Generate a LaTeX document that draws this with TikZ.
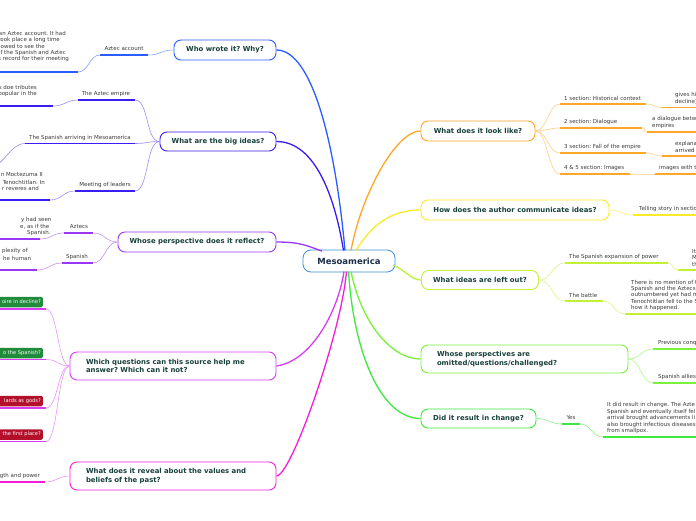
\documentclass[tikz,border=0pt]{standalone}
\usepackage{fontspec}
\setmainfont{DejaVu Sans}
\frenchspacing
\definecolor{cBlue}{HTML}{2B5CFF}
\definecolor{cIndigo}{HTML}{3A1DF0}
\definecolor{cPurple}{HTML}{9A36F5}
\definecolor{cViolet}{HTML}{D83CF5}
\definecolor{cMagenta}{HTML}{F51ED8}
\definecolor{cOrange}{HTML}{FFA726}
\definecolor{cYellow}{HTML}{FAEA2A}
\definecolor{cLime}{HTML}{C2F034}
\definecolor{cGreenA}{HTML}{7AF23A}
\definecolor{cGreenB}{HTML}{3FE83F}
\definecolor{cCenter}{HTML}{3D8FD6}
\definecolor{tDark}{HTML}{17403A}
\definecolor{tCenter}{HTML}{1C2E4A}
\definecolor{tGray}{HTML}{3A3A3A}
\definecolor{tagGreen}{HTML}{1F8B3B}
\definecolor{tagRed}{HTML}{B3102C}
\begin{document}
\begin{tikzpicture}[x=1pt,y=-1pt,
 topic/.style={draw, rounded corners=7pt, line width=0.9pt, fill=white, font=\fontsize{6.9}{8.8}\selectfont\bfseries, text=tDark, inner sep=0pt, minimum height=20pt},
 lbl/.style={font=\fontsize{5.5}{6.6}\selectfont, text=tGray, inner sep=0pt},
 tag/.style={font=\fontsize{5.1}{6}\selectfont, text=white, inner xsep=2pt, inner ysep=0pt, minimum height=10.5pt, rounded corners=1.5pt, text width=60pt, align=right},
 uline/.style={line width=1.5pt},
 link/.style={line width=0.6pt},
 trunk/.style={line width=1.3pt},
]
\fill[white] (0,0) rectangle (696,520);
\useasboundingbox (0,0) rectangle (696,520);

% ---------- centre ----------
\node[draw=cCenter, rounded corners=8pt, line width=0.8pt, fill=white, minimum width=92pt, minimum height=22pt, font=\fontsize{8.5}{10}\selectfont\bfseries, text=tCenter, inner sep=0pt] (c) at (349,261) {Mesoamerica};
\coordinate (cW) at (345,250.5);
\coordinate (cB) at (343.5,250.5);
\coordinate (cP) at (322,251);
\coordinate (cQ) at (344,271.5);
\coordinate (cR) at (346.5,271.5);
\coordinate (cO) at (351,250.5);
\coordinate (cY) at (356,250.5);
\coordinate (cL) at (393,265);
\coordinate (cG1) at (351,271.5);
\coordinate (cG2) at (348.5,271.5);

% ---------- topics ----------
\node[topic, draw=cBlue, minimum width=102pt] (who) at (225,50) {Who wrote it? Why?};
\node[topic, draw=cIndigo, minimum width=116pt, minimum height=19pt] (big) at (218,141.5) {What are the big ideas?};
\node[topic, draw=cPurple, minimum width=158pt] (persp) at (197,242) {Whose perspective does it reflect?};
\node[topic, draw=cViolet, minimum height=28pt, text width=174pt, inner xsep=16pt, align=left] (which) at (173,366) {Which questions can this source help me\\answer? Which can it not?};
\node[topic, draw=cMagenta, minimum height=28pt, text width=174pt, inner xsep=16pt, align=left] (reveal) at (173,476) {What does it reveal about the values and\\beliefs of the past?};
\node[topic, draw=cOrange, minimum width=114pt] (look) at (478,131) {What does it look like?};
\node[topic, draw=cYellow, minimum width=188pt] (how) at (515,210) {How does the author communicate ideas?};
\node[topic, draw=cLime, minimum width=117pt, minimum height=19pt] (left) at (480,280) {What ideas are left out?};
\node[topic, draw=cGreenA, minimum height=28pt, text width=175pt, inner xsep=16pt, align=left] (omit) at (524.5,359) {Whose perspectives are\\omitted/questions/challenged?};
\node[topic, draw=cGreenB, minimum width=115pt, minimum height=19pt] (did) at (478.5,418.5) {Did it result in change?};

% ---------- trunks ----------
\draw[trunk, cBlue] (who.east) .. controls +(35,0) and +(-10,-110) .. (cW);
\draw[trunk, cIndigo] (big.east) .. controls +(40,0) and +(-8,-50) .. (cB);
\draw[trunk, cPurple] (persp.east) .. controls +(25,0) and +(-15,-5) .. (cP);
\draw[trunk, cViolet] (which.east) .. controls +(35,-5) and +(-6,40) .. (cQ);
\draw[trunk, cMagenta] (reveal.east) .. controls +(15,0) and +(-5,60) .. (cR);
\draw[trunk, cOrange] (cO) .. controls +(10,-55) and +(-25,0) .. (look.west);
\draw[trunk, cYellow] (cY) .. controls +(15,-25) and +(-30,0) .. (how.west);
\draw[trunk, cLime] (cL) .. controls +(12,5) and +(-10,0) .. (left.west);
\draw[trunk, cGreenA] (cG1) .. controls +(10,50) and +(-30,0) .. (omit.west);
\draw[trunk, cGreenB] (cG2) .. controls +(5,80) and +(-40,0) .. (did.west);

% ---------- Who wrote it ----------
\node[lbl] (whoA) at (124,49) {Aztec account};
\coordinate (whoAl) at (100,55); \coordinate (whoAr) at (148,55);
\draw[uline, cBlue] (whoAl) -- (whoAr);
\draw[link, cBlue!55] (who.west) .. controls +(-13,0) and +(13,0) .. (whoAr);
\node[lbl, anchor=east] (whoT1) at (66,33) {an Aztec account. It had};
\node[lbl, anchor=east] (whoT2) at (60,40) {took place a long time};
\node[lbl, anchor=east] (whoT3) at (45,46) {lowed to see the};
\node[lbl, anchor=east] (whoT4) at (66,53) {f the Spanish and Aztec};
\node[lbl, anchor=east] (whoT5) at (69,59) {s record for their meeting};
\coordinate (whoTl) at (-2,72); \coordinate (whoTr) at (78,72);
\draw[uline, cBlue] (whoTl) -- (whoTr);
\draw[link, cBlue!55] (whoAl) .. controls +(-11,0) and +(11,0) .. (whoTr);

% ---------- Big ideas ----------
\node[lbl] (bgA) at (106,94) {The Aztec empire};
\coordinate (bgAl) at (78,100); \coordinate (bgAr) at (135,100);
\draw[uline, cIndigo] (bgAl) -- (bgAr);
\draw[link, cIndigo!50] (big.west) .. controls +(-14,0) and +(14,0) .. (bgAr);
\node[lbl, anchor=east] (bgAt1) at (37,87) {is doe tributes};
\node[lbl, anchor=east] (bgAt2) at (37,94) {popular in the};
\coordinate (bgAtl) at (-2,106); \coordinate (bgAtr) at (53,106);
\draw[uline, cIndigo] (bgAtl) -- (bgAtr);
\draw[link, cIndigo!50] (bgAl) .. controls +(-12,0) and +(12,0) .. (bgAtr);

\node[lbl] (bgB) at (80,138) {The Spanish arriving in Mesoamerica};
\coordinate (bgBl) at (25,143.5); \coordinate (bgBr) at (135,143.5);
\draw[uline, cIndigo] (bgBl) -- (bgBr);
\draw[link, cIndigo!50] (big.west) .. controls +(-12,0) and +(12,0) .. (bgBr);
\coordinate (bgBt) at (-8,166);
\draw[link, cIndigo!50] (bgBl) .. controls +(-15,0) and +(12,0) .. (bgBt);

\node[lbl] (bgC) at (105,185) {Meeting of leaders};
\coordinate (bgCl) at (75,191); \coordinate (bgCr) at (135,191);
\draw[uline, cIndigo] (bgCl) -- (bgCr);
\draw[link, cIndigo!50] (big.west) .. controls +(-14,0) and +(14,0) .. (bgCr);
\node[lbl, anchor=east] (bgCt1) at (43,175) {n Moctezuma II};
\node[lbl, anchor=east] (bgCt2) at (45,182) {Tenochtitlan. In};
\node[lbl, anchor=east] (bgCt3) at (39,188) {r reveres and};
\coordinate (bgCtl) at (-2,200); \coordinate (bgCtr) at (50,200);
\draw[uline, cIndigo] (bgCtl) -- (bgCtr);
\draw[link, cIndigo!50] (bgCl) .. controls +(-12,0) and +(12,0) .. (bgCtr);

% ---------- Perspective ----------
\node[lbl] (psA) at (79,227) {Aztecs};
\coordinate (psAl) at (64,233); \coordinate (psAr) at (93,233);
\draw[uline, cPurple] (psAl) -- (psAr);
\draw[link, cPurple!55] (persp.west) .. controls +(-12,0) and +(12,0) .. (psAr);
\node[lbl, anchor=west] (psAt1) at (21,220) {y had seen};
\node[lbl, anchor=west] (psAt2) at (20,226.5) {e, as if the};
\node[lbl, anchor=west] (psAt3) at (27,233) {Spanish.};
\coordinate (psAtl) at (-2,239); \coordinate (psAtr) at (40,239);
\draw[uline, cPurple] (psAtl) -- (psAtr);
\draw[link, cPurple!55] (psAl) .. controls +(-12,0) and +(12,0) .. (psAtr);

\node[lbl] (psB) at (77,257) {Spanish};
\coordinate (psBl) at (62,263); \coordinate (psBr) at (93,263);
\draw[uline, cPurple] (psBl) -- (psBr);
\draw[link, cPurple!55] (persp.west) .. controls +(-12,0) and +(12,0) .. (psBr);
\node[lbl, anchor=west] (psBt1) at (2,251) {plexity of};
\node[lbl, anchor=west] (psBt2) at (3,258) {he human};
\coordinate (psBtl) at (-2,270); \coordinate (psBtr) at (37,270);
\draw[uline, cPurple] (psBtl) -- (psBtr);
\draw[link, cPurple!55] (psBl) .. controls +(-12,0) and +(12,0) .. (psBtr);

% ---------- Which questions ----------
\node[tag, fill=tagGreen, anchor=east] (q1) at (43,302) {oire in decline?};
\node[tag, fill=tagGreen, anchor=east] (q2) at (43,353) {o the Spanish?};
\node[tag, fill=tagRed, anchor=east] (q3) at (43,401) {lards as gods?};
\node[tag, fill=tagRed, anchor=east] (q4) at (43,434.5) {the first place?};
\coordinate (q1l) at (-2,309); \coordinate (q1r) at (46,309);
\coordinate (q2l) at (-2,359.5); \coordinate (q2r) at (46,359.5);
\coordinate (q3l) at (-2,408); \coordinate (q3r) at (46,408);
\coordinate (q4l) at (-2,441.5); \coordinate (q4r) at (46,441.5);
\draw[uline, cViolet] (q1l) -- (q1r);
\draw[uline, cViolet] (q2l) -- (q2r);
\draw[uline, cViolet] (q3l) -- (q3r);
\draw[uline, cViolet] (q4l) -- (q4r);
\draw[link, cViolet!55] (which.west) .. controls +(-12,0) and +(12,0) .. (q1r);
\draw[link, cViolet!55] (which.west) .. controls +(-12,0) and +(12,0) .. (q2r);
\draw[link, cViolet!55] (which.west) .. controls +(-12,0) and +(12,0) .. (q3r);
\draw[link, cViolet!55] (which.west) .. controls +(-12,0) and +(12,0) .. (q4r);

% ---------- Reveal ----------
\node[lbl, anchor=east] (rvA) at (40,476) {gth and power};
\coordinate (rvAl) at (-2,482); \coordinate (rvAr) at (45,482);
\draw[uline, cMagenta] (rvAl) -- (rvAr);
\draw[link, cMagenta!50] (reveal.west) .. controls +(-12,0) and +(12,0) .. (rvAr);

% ---------- Look like ----------
\node[lbl, anchor=west] (lk1) at (564,98) {1 section: Historical context};
\coordinate (lk1l) at (560,104); \coordinate (lk1r) at (646,104);
\node[lbl, anchor=west] (lk2) at (564,122) {2 section: Dialogue};
\coordinate (lk2l) at (560,128); \coordinate (lk2r) at (642,128);
\node[lbl, anchor=west] (lk3) at (564,147) {3 section: Fall of the empire};
\coordinate (lk3l) at (560,153); \coordinate (lk3r) at (646,153);
\node[lbl, anchor=west] (lk4) at (564,168) {4 \& 5 section: Images};
\coordinate (lk4l) at (560,174); \coordinate (lk4r) at (630,174);
\foreach \k in {1,2,3,4}{
  \draw[uline, cOrange] (lk\k l) -- (lk\k r);
  \draw[link, cOrange!55] (look.east) .. controls +(12,0) and +(-12,0) .. (lk\k l);
}
\node[lbl, anchor=west] (lk1a) at (675,95) {gives hi};
\node[lbl, anchor=west] (lk1b) at (675,101.5) {decline)};
\coordinate (lk1tl) at (662,107.5); \coordinate (lk1tr) at (700,107.5);
\node[lbl, anchor=west] (lk2a) at (652,119) {a dialogue betw};
\node[lbl, anchor=west] (lk2b) at (652,125.5) {empires};
\coordinate (lk2tl) at (647,132); \coordinate (lk2tr) at (700,132);
\node[lbl, anchor=west] (lk3a) at (675,144) {explana};
\node[lbl, anchor=west] (lk3b) at (675,150.5) {arrived};
\coordinate (lk3tl) at (662,156); \coordinate (lk3tr) at (700,156);
\node[lbl, anchor=west] (lk4a) at (659,168) {images with t};
\coordinate (lk4tl) at (655,174); \coordinate (lk4tr) at (700,174);
\foreach \k in {1,2,3,4}{
  \draw[uline, cOrange] (lk\k tl) -- (lk\k tr);
  \draw[link, cOrange!55] (lk\k r) .. controls +(8,0) and +(-8,0) .. (lk\k tl);
}

% ---------- How ----------
\node[lbl, anchor=west] (hwA) at (639,209) {Telling story in sectio};
\coordinate (hwAl) at (633,215); \coordinate (hwAr) at (700,215);
\draw[uline, cYellow] (hwAl) -- (hwAr);
\draw[link, cYellow!70] (how.east) .. controls +(12,0) and +(-12,0) .. (hwAl);

% ---------- Left out ----------
\node[lbl, anchor=west] (loA) at (569,257) {The Spanish expansion of power};
\coordinate (loAl) at (565,263); \coordinate (loAr) at (668,263);
\draw[uline, cLime] (loAl) -- (loAr);
\draw[link, cLime!60] (left.east) .. controls +(13,0) and +(-13,0) .. (loAl);
\node[lbl, anchor=west] (loAt1) at (692,251) {It};
\node[lbl, anchor=west] (loAt2) at (692,257.5) {M};
\node[lbl, anchor=west] (loAt3) at (692,264) {th};
\coordinate (loAtl) at (678,270); \coordinate (loAtr) at (700,270);
\draw[uline, cLime] (loAtl) -- (loAtr);
\draw[link, cLime!60] (loAr) .. controls +(6,0) and +(-6,0) .. (loAtl);

\node[lbl, anchor=west] (loB) at (569,295) {The battle};
\coordinate (loBl) at (565,301); \coordinate (loBr) at (603,301);
\draw[uline, cLime] (loBl) -- (loBr);
\draw[link, cLime!60] (left.east) .. controls +(13,0) and +(-13,0) .. (loBl);
\node[lbl, anchor=west] (loBt1) at (631,282) {There is no mention of t};
\node[lbl, anchor=west] (loBt2) at (631,288.5) {Spanish and the Aztecs.};
\node[lbl, anchor=west] (loBt3) at (631,295) {outnumbered yet had m};
\node[lbl, anchor=west] (loBt4) at (631,301.5) {Tenochtitlan fell to the S};
\node[lbl, anchor=west] (loBt5) at (631,308) {how it happened.};
\coordinate (loBtl) at (625,314); \coordinate (loBtr) at (700,314);
\draw[uline, cLime] (loBtl) -- (loBtr);
\draw[link, cLime!60] (loBr) .. controls +(11,0) and +(-11,0) .. (loBtl);

% ---------- Omitted ----------
\node[lbl, anchor=west] (omA) at (658,343) {Previous conq};
\coordinate (omAl) at (653,349); \coordinate (omAr) at (700,349);
\draw[uline, cGreenA] (omAl) -- (omAr);
\draw[link, cGreenA!60] (omit.east) .. controls +(12,0) and +(-12,0) .. (omAl);
\node[lbl, anchor=west] (omB) at (658,377) {Spanish allies};
\coordinate (omBl) at (653,383); \coordinate (omBr) at (700,383);
\draw[uline, cGreenA] (omBl) -- (omBr);
\draw[link, cGreenA!60] (omit.east) .. controls +(12,0) and +(-12,0) .. (omBl);

% ---------- Did it result ----------
\node[lbl] (dcA) at (571,418) {Yes};
\coordinate (dcAl) at (562,424); \coordinate (dcAr) at (580,424);
\draw[uline, cGreenB] (dcAl) -- (dcAr);
\draw[link, cGreenB!60] (did.east) .. controls +(13,0) and +(-13,0) .. (dcAl);
\node[lbl, anchor=west] (dcT1) at (607,405) {It did result in change. The Azte};
\node[lbl, anchor=west] (dcT2) at (607,411.5) {Spanish and eventually itself fel};
\node[lbl, anchor=west] (dcT3) at (607,418) {arrival brought advancements li};
\node[lbl, anchor=west] (dcT4) at (607,424.5) {also brought infectious diseases};
\node[lbl, anchor=west] (dcT5) at (607,431) {from smallpox.};
\coordinate (dcTl) at (603,437); \coordinate (dcTr) at (700,437);
\draw[uline, cGreenB] (dcTl) -- (dcTr);
\draw[link, cGreenB!60] (dcAr) .. controls +(11,0) and +(-11,0) .. (dcTl);
\end{tikzpicture}
\end{document}
